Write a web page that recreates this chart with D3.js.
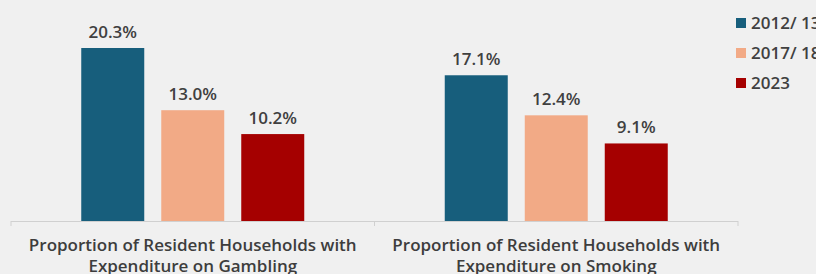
<!DOCTYPE html>
<html>
  <head>
    <meta charset="utf-8">
    <title>household expenditure chart</title>
    <style>
      body { margin: 0; background: #f0f0f0; }
      text { font-family: "Open Sans", sans-serif; }
    </style>
  </head>
  <body>
    <div class="chart"></div>
    <script src="https://d3js.org/d3.v7.min.js"></script>
    <script>
        var w = 816, h = 274;
        var categories = [
          ["Proportion of Resident Households with", "Expenditure on Gambling"],
          ["Proportion of Resident Households with", "Expenditure on Smoking"]
        ];
        var series = ["2012/ 13", "2017/ 18", "2023"];
        var values2012 = [20.3, 17.1];
        var values2017 = [13.0, 12.4];
        var values2023 = [10.2, 9.1];
        var colors = ["#175e7c", "#f2aa86", "#a50000"];

        var allValues = [values2012, values2017, values2023];
        var margin = {left: 11, right: 78, top: 0, bottom: 53};
        var baseY = h - margin.bottom;

        var svg = d3.select(".chart")
          .append("svg")
          .attr("width", w)
          .attr("height", h);

        var x0 = d3.scaleBand()
          .domain(d3.range(categories.length))
          .range([margin.left, w - margin.right]);

        var x1 = d3.scaleBand()
          .domain(d3.range(series.length))
          .range([0, 223])
          .paddingInner(0.2125)
          .paddingOuter(0);

        var y = d3.scaleLinear()
          .domain([0, 20.3])
          .range([baseY, 48]);

        // axis line with ticks between categories
        svg.append("line")
          .attr("x1", margin.left).attr("x2", w - margin.right)
          .attr("y1", baseY + 0.5).attr("y2", baseY + 0.5)
          .attr("stroke", "#d0d0d0");
        [0, 1, 2].forEach(function(i) {
          var xx = margin.left + i * x0.bandwidth();
          svg.append("line")
            .attr("x1", xx).attr("x2", xx)
            .attr("y1", baseY).attr("y2", baseY + 5)
            .attr("stroke", "#d0d0d0");
        });

        var groups = svg.selectAll(".grp")
          .data(categories)
          .enter()
          .append("g")
          .attr("class", "grp")
          .attr("transform", function(d, i) {
            var groupW = x1.range()[1];
            return "translate(" + (x0(i) + (x0.bandwidth() - groupW) / 2) + ",0)";
          });

        groups.each(function(cat, ci) {
          var g = d3.select(this);
          series.forEach(function(s, si) {
            var v = allValues[si][ci];
            g.append("rect")
              .attr("x", x1(si))
              .attr("y", y(v))
              .attr("width", x1.bandwidth())
              .attr("height", baseY - y(v))
              .attr("fill", colors[si]);
            g.append("text")
              .attr("x", x1(si) + x1.bandwidth() / 2)
              .attr("y", y(v) - 10)
              .attr("text-anchor", "middle")
              .attr("font-size", "17px")
              .attr("font-weight", 600)
              .attr("fill", "#404040")
              .text(v.toFixed(1) + "%");
          });
        });

        // category labels (second line runs off the bottom, as in the original)
        categories.forEach(function(lines, i) {
          var t = svg.append("text")
            .attr("text-anchor", "middle")
            .attr("font-size", "17px")
            .attr("font-weight", 600)
            .attr("fill", "#3d3d3d");
          lines.forEach(function(l, li) {
            t.append("tspan")
              .attr("x", x0(i) + x0.bandwidth() / 2)
              .attr("y", 251 + li * 21)
              .text(l);
          });
        });

        // legend
        var legend = svg.selectAll(".leg")
          .data(series)
          .enter()
          .append("g")
          .attr("class", "leg")
          .attr("transform", function(d, i) { return "translate(736," + (18 + i * 30) + ")"; });
        legend.append("rect")
          .attr("width", 10).attr("height", 10)
          .attr("fill", function(d, i) { return colors[i]; });
        legend.append("text")
          .attr("x", 15).attr("y", 11)
          .attr("font-size", "17px")
          .attr("font-weight", 600)
          .attr("fill", "#404040")
          .text(function(d) { return d; });
    </script>
  </body>
</html>
